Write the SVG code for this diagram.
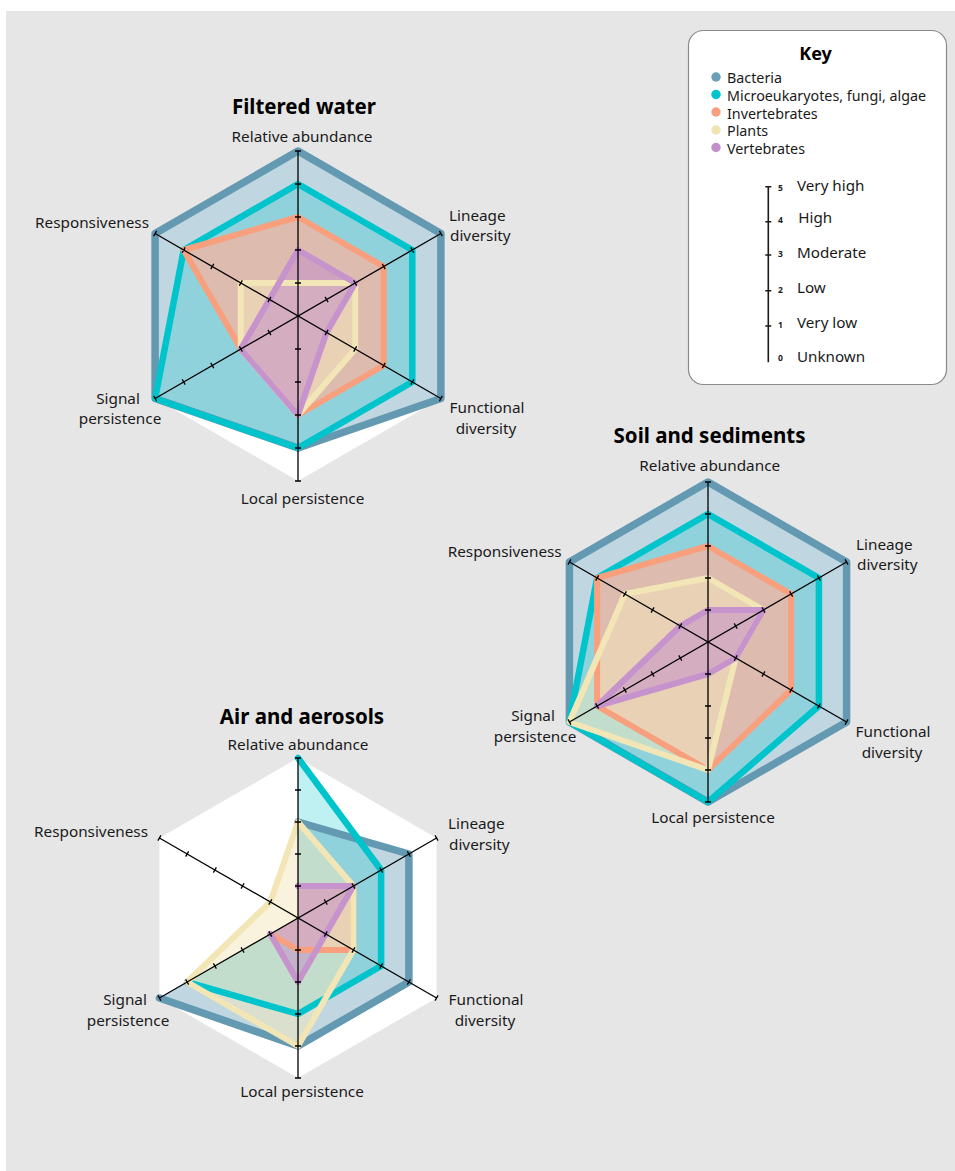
<svg xmlns="http://www.w3.org/2000/svg" xmlns:xlink="http://www.w3.org/1999/xlink" width="955" height="1171" viewBox="0 0 955 1171">
<style>
.lbl{font-family:"Noto Sans","Liberation Sans",sans-serif;font-size:15.3px;fill:#1a1a1a}
.ttl{font-family:"Noto Sans","Liberation Sans",sans-serif;font-size:20.5px;font-weight:bold;fill:#000}
.mid{text-anchor:middle}
.end{text-anchor:end}
.ax{fill:none;stroke:#000;stroke-width:1.3}
.hex{fill:#fff;stroke:none}
.bac{fill:#6a9fb8;fill-opacity:.42;stroke:#6499b2;stroke-width:7.5;stroke-linejoin:round;stroke-linecap:round}
.mic{fill:#00c4cc;fill-opacity:.25;stroke:#00c4cc;stroke-width:6.5;stroke-linejoin:round;stroke-linecap:round}
.inv{fill:#feb19c;fill-opacity:.7;stroke:#f8a07e;stroke-width:6;stroke-linejoin:round;stroke-linecap:round}
.pla{fill:#f3e8bb;fill-opacity:.5;stroke:#f2e6b6;stroke-width:6;stroke-linejoin:round;stroke-linecap:round}
.ver{fill:#c38fcb;fill-opacity:.55;stroke:#c693cd;stroke-width:6;stroke-linejoin:round;stroke-linecap:round}
.nf{fill:none}
.ns{stroke:none}
.klbl{font-family:"Noto Sans","Liberation Sans",sans-serif;font-size:14.3px;fill:#1a1a1a}
.slbl{font-family:"Noto Sans","Liberation Sans",sans-serif;font-size:15.2px;fill:#1a1a1a}
.num{font-family:"Noto Sans","Liberation Sans",sans-serif;font-size:8.5px;font-weight:bold;fill:#1a1a1a}
</style>
<defs>
<path id="ax165" class="ax" d="M0,-165V165M-3,-165H3M-3,-132H3M-3,-99H3M-3,-66H3M-3,-33H3M-3,33H3M-3,66H3M-3,99H3M-3,132H3M-3,165H3"/>
<path id="ax160" class="ax" d="M0,-160V160M-3,-160H3M-3,-128H3M-3,-96H3M-3,-64H3M-3,-32H3M-3,32H3M-3,64H3M-3,96H3M-3,128H3M-3,160H3"/>
</defs>
<rect x="0" y="0" width="955" height="1171" fill="#fff"/>
<rect x="6" y="11" width="949" height="1160" fill="#e6e6e6"/>

<g id="filtered-water">
<polygon class="hex" points="298,151 440.9,233.5 440.9,398.5 298,481 155.1,398.5 155.1,233.5"/>
<g id="fw-fills">
<polygon class="bac ns" points="298,151 440.9,233.5 440.9,398.5 298,448 155.1,398.5 155.1,233.5"/>
<polygon class="mic ns" points="298,184 412.3,250 412.3,382 298,448 155.1,398.5 183.7,250"/>
<polygon class="inv ns" points="298,217 383.7,266.5 383.7,365.5 298,415 240.8,349 183.7,250"/>
<polygon class="pla ns" points="298,283 355.2,283 355.2,349 298,415 240.8,349 240.8,283"/>
<polygon class="ver ns" points="298,250 355.2,283 326.6,332.5 298,415 240.8,349 269.4,299.5"/>
</g>
<g id="fw-lines">
<polygon class="bac nf" points="298,151 440.9,233.5 440.9,398.5 298,448 155.1,398.5 155.1,233.5"/>
<polygon class="mic nf" points="298,184 412.3,250 412.3,382 298,448 155.1,398.5 183.7,250"/>
<polygon class="inv nf" points="298,217 383.7,266.5 383.7,365.5 298,415 240.8,349 183.7,250"/>
<polygon class="pla nf" points="298,283 355.2,283 355.2,349 298,415 240.8,349 240.8,283"/>
<polygon class="ver nf" points="298,250 355.2,283 326.6,332.5 298,415 240.8,349 269.4,299.5"/>
</g>
<use xlink:href="#ax165" transform="translate(298 316)"/>
<use xlink:href="#ax165" transform="translate(298 316) rotate(60)"/>
<use xlink:href="#ax165" transform="translate(298 316) rotate(120)"/>
<text class="ttl mid" x="304" y="114">Filtered water</text>
<text class="lbl mid" x="302" y="142">Relative abundance</text>
<text class="lbl" x="449" y="221">Lineage</text>
<text class="lbl" x="450" y="241">diversity</text>
<text class="lbl end" x="149" y="228">Responsiveness</text>
<text class="lbl mid" x="118" y="404">Signal</text>
<text class="lbl mid" x="120" y="424">persistence</text>
<text class="lbl mid" x="487" y="413">Functional</text>
<text class="lbl mid" x="486" y="434">diversity</text>
<text class="lbl mid" x="302.5" y="504">Local persistence</text>
</g>

<g id="soil-and-sediments">
<polygon class="hex" points="708,482 846.6,562 846.6,722 708,802 569.4,722 569.4,562"/>
<g id="ss-fills">
<polygon class="bac ns" points="708,482 846.6,562 846.6,722 708,802 569.4,722 569.4,562"/>
<polygon class="mic ns" points="708,514 818.9,578 818.9,706 708,802 569.4,722 597.1,578"/>
<polygon class="inv ns" points="708,546 791.1,594 791.1,690 708,770 597.1,706 597.1,578"/>
<polygon class="pla ns" points="708,578 763.4,610 735.7,658 708,770 569.4,722 624.9,594"/>
<polygon class="ver ns" points="708,610 763.4,610 735.7,658 708,674 597.1,706 680.3,626"/>
</g>
<g id="ss-lines">
<polygon class="bac nf" points="708,482 846.6,562 846.6,722 708,802 569.4,722 569.4,562"/>
<polygon class="mic nf" points="708,514 818.9,578 818.9,706 708,802 569.4,722 597.1,578"/>
<polygon class="inv nf" points="708,546 791.1,594 791.1,690 708,770 597.1,706 597.1,578"/>
<polygon class="pla nf" points="708,578 763.4,610 735.7,658 708,770 569.4,722 624.9,594"/>
<polygon class="ver nf" points="708,610 763.4,610 735.7,658 708,674 597.1,706 680.3,626"/>
</g>
<use xlink:href="#ax160" transform="translate(708 642)"/>
<use xlink:href="#ax160" transform="translate(708 642) rotate(60)"/>
<use xlink:href="#ax160" transform="translate(708 642) rotate(120)"/>
<text class="ttl mid" x="709.5" y="442.7">Soil and sediments</text>
<text class="lbl mid" x="709.7" y="471">Relative abundance</text>
<text class="lbl" x="856" y="549.5">Lineage</text>
<text class="lbl" x="857" y="569.5">diversity</text>
<text class="lbl end" x="561.7" y="557">Responsiveness</text>
<text class="lbl mid" x="533" y="720.7">Signal</text>
<text class="lbl mid" x="535" y="741.7">persistence</text>
<text class="lbl mid" x="893" y="736.5">Functional</text>
<text class="lbl mid" x="892" y="757.5">diversity</text>
<text class="lbl mid" x="713" y="823">Local persistence</text>
</g>

<g id="air-and-aerosols">
<polygon class="hex" points="298,758 436.6,838 436.6,998 298,1078 159.4,998 159.4,838"/>
<g id="aa-fills">
<polygon class="bac ns" points="298,822 408.9,854 408.9,982 298,1046 159.4,998 298,918"/>
<polygon class="mic ns" points="298,758 381.1,870 381.1,966 298,1014 187.1,982 298,918"/>
<polygon class="inv ns" points="298,886 353.4,886 353.4,950 298,950 270.3,934 298,918"/>
<polygon class="pla ns" points="298,822 353.4,886 353.4,950 298,1046 187.1,982 270.3,902"/>
<polygon class="ver ns" points="298,886 353.4,886 325.7,934 298,982 270.3,934 298,918"/>
</g>
<g id="aa-lines">
<polyline class="bac nf" points="298,822 408.9,854 408.9,982 298,1046 159.4,998"/>
<polyline class="mic nf" points="298,758 381.1,870 381.1,966 298,1014 187.1,982"/>
<polyline class="inv nf" points="298,886 353.4,886 353.4,950 298,950 270.3,934"/>
<polygon class="pla nf" points="298,822 353.4,886 353.4,950 298,1046 187.1,982 270.3,902"/>
<polyline class="ver nf" points="298,886 353.4,886 325.7,934 298,982 270.3,934"/>
</g>
<use xlink:href="#ax160" transform="translate(298 918)"/>
<use xlink:href="#ax160" transform="translate(298 918) rotate(60)"/>
<use xlink:href="#ax160" transform="translate(298 918) rotate(120)"/>
<text class="ttl mid" x="302" y="724">Air and aerosols</text>
<text class="lbl mid" x="298" y="750">Relative abundance</text>
<text class="lbl" x="448" y="829">Lineage</text>
<text class="lbl" x="449" y="850">diversity</text>
<text class="lbl end" x="148" y="837">Responsiveness</text>
<text class="lbl mid" x="125" y="1005">Signal</text>
<text class="lbl mid" x="128" y="1026">persistence</text>
<text class="lbl mid" x="486" y="1005">Functional</text>
<text class="lbl mid" x="485" y="1026">diversity</text>
<text class="lbl mid" x="302" y="1097">Local persistence</text>
</g>

<g id="key">
<rect x="688.5" y="30.5" width="258" height="354" rx="15" ry="15" fill="#fff" stroke="#8a8a8a" stroke-width="1.2"/>
<text class="ttl mid" x="815.5" y="60" style="font-size:18px">Key</text>
<circle cx="716" cy="77" r="4.7" fill="#6a9fb8"/>
<circle cx="716" cy="94.5" r="4.7" fill="#00c4cc"/>
<circle cx="716" cy="112" r="4.7" fill="#f8a07e"/>
<circle cx="716" cy="130" r="4.7" fill="#efe3b3"/>
<circle cx="716" cy="147.5" r="4.7" fill="#c38fcb"/>
<text class="klbl" x="727" y="83">Bacteria</text>
<text class="klbl" x="727" y="101">Microeukaryotes, fungi, algae</text>
<text class="klbl" x="727" y="118.5">Invertebrates</text>
<text class="klbl" x="727" y="136">Plants</text>
<text class="klbl" x="727" y="153.5">Vertebrates</text>
<path d="M768.3,186.7V362.3M765.3,186.7H771.3M765.3,221.7H771.3M765.3,255H771.3M765.3,290.7H771.3M765.3,326H771.3" fill="none" stroke="#1a1a1a" stroke-width="1.6"/>
<text class="num" x="778" y="190.7">5</text>
<text class="num" x="778" y="222.7">4</text>
<text class="num" x="778" y="257.3">3</text>
<text class="num" x="778" y="292.7">2</text>
<text class="num" x="778" y="328.3">1</text>
<text class="num" x="778" y="360.7">0</text>
<text class="slbl" x="797" y="190.7">Very high</text>
<text class="slbl" x="798.3" y="223.3">High</text>
<text class="slbl" x="797" y="258.3">Moderate</text>
<text class="slbl" x="797" y="293.3">Low</text>
<text class="slbl" x="797" y="328.3">Very low</text>
<text class="slbl" x="797" y="361.7">Unknown</text>
</g>
</svg>
